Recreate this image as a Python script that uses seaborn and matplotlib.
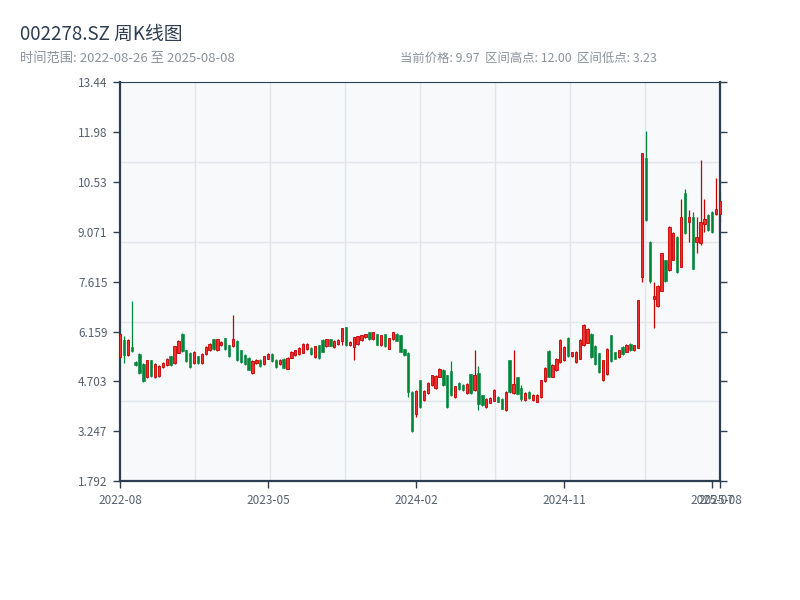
import numpy as np
import pandas as pd
import matplotlib
matplotlib.use('Agg')
import matplotlib.pyplot as plt
import seaborn as sns

# weekly candles, 2022-08-26 .. 2025-08-08
dates = pd.date_range('2022-08-26', periods=155, freq='W-FRI')

opens = [5.42, 5.91, 5.47, 5.71, 5.27, 5.50, 5.21, 4.82, 5.32, 4.82,
         4.86, 5.13, 5.17, 5.44, 5.24, 5.54, 6.10, 5.61, 5.54, 5.24,
         5.44, 5.24, 5.50, 5.61, 5.93, 5.61, 5.76, 5.96, 5.76, 5.73,
         5.89, 5.61, 5.47, 5.40, 4.95, 5.23, 5.34, 5.21, 5.37, 5.50,
         5.34, 5.21, 5.37, 5.08, 5.40, 5.47, 5.50, 5.54, 5.64, 5.69,
         5.42, 5.76, 5.91, 5.73, 5.93, 5.71, 5.80, 5.89, 6.28, 5.76,
         5.70, 5.79, 5.91, 5.99, 6.14, 5.93, 6.08, 5.77, 6.08, 5.66,
         5.93, 6.10, 6.05, 5.64, 5.54, 4.40, 3.75, 4.74, 4.16, 4.37,
         4.59, 4.50, 4.84, 5.05, 4.88, 5.00, 4.25, 4.66, 4.60, 4.37,
         4.91, 4.45, 4.95, 4.30, 3.96, 4.08, 4.14, 4.25, 4.20, 3.86,
         5.32, 4.37, 4.82, 4.50, 4.16, 4.40, 4.16, 4.11, 4.25, 4.71,
         5.59, 4.84, 5.03, 5.27, 5.32, 5.97, 5.45, 5.26, 5.37, 5.76,
         5.84, 6.10, 5.74, 5.52, 4.74, 4.91, 6.05, 5.55, 5.42, 5.71,
         5.57, 5.81, 5.61, 5.69, 7.75, 11.24, 8.78, 7.10, 6.91, 7.35,
         8.24, 7.95, 8.26, 8.93, 8.05, 10.20, 9.35, 9.50, 8.78, 8.73,
         9.30, 9.56, 9.65, 9.59, 9.60]
closes = [6.10, 5.47, 5.91, 5.59, 5.17, 4.95, 4.72, 5.32, 4.86, 5.21,
          5.15, 5.24, 5.37, 5.17, 5.73, 5.89, 5.59, 5.30, 5.13, 5.57,
          5.23, 5.50, 5.71, 5.81, 5.64, 5.93, 5.86, 5.64, 5.44, 5.93,
          5.32, 5.27, 5.21, 5.05, 5.30, 5.34, 5.15, 5.44, 5.50, 5.30,
          5.13, 5.34, 5.11, 5.40, 5.57, 5.61, 5.69, 5.81, 5.81, 5.50,
          5.73, 5.38, 5.57, 5.93, 5.75, 5.89, 5.92, 6.25, 5.76, 5.86,
          5.99, 6.02, 6.05, 6.08, 5.93, 6.14, 5.78, 6.05, 5.74, 5.96,
          6.14, 5.89, 5.57, 5.47, 4.40, 3.26, 4.43, 3.96, 4.43, 4.66,
          4.88, 4.86, 5.08, 4.59, 3.96, 4.30, 4.56, 4.47, 4.45, 4.64,
          4.37, 4.88, 4.05, 4.01, 4.20, 4.23, 4.45, 4.11, 3.91, 4.40,
          4.40, 4.64, 4.35, 4.18, 4.38, 4.22, 4.32, 4.32, 4.74, 5.10,
          4.84, 5.18, 5.37, 5.91, 5.71, 5.45, 5.55, 5.57, 5.91, 6.35,
          6.23, 5.42, 5.20, 4.98, 5.32, 5.66, 5.29, 5.37, 5.61, 5.49,
          5.78, 5.61, 5.76, 7.07, 11.36, 9.41, 7.64, 7.20, 7.50, 8.44,
          7.64, 9.22, 9.05, 7.90, 9.51, 9.05, 9.50, 8.00, 8.93, 9.36,
          9.45, 9.12, 9.07, 9.75, 9.97]
highs = [6.15, 6.02, 5.93, 7.05, 5.30, 5.52, 5.23, 5.34, 5.34, 5.23,
         5.17, 5.26, 5.39, 5.46, 5.75, 5.91, 6.12, 5.63, 5.56, 5.59,
         5.46, 5.52, 5.73, 5.83, 5.95, 5.95, 5.88, 5.98, 5.78, 6.64,
         5.91, 5.63, 5.49, 5.42, 5.32, 5.36, 5.36, 5.46, 5.52, 5.52,
         5.36, 5.36, 5.39, 5.42, 5.59, 5.63, 5.71, 5.83, 5.83, 5.71,
         5.75, 5.78, 5.93, 5.95, 5.95, 5.91, 5.94, 6.27, 6.30, 5.88,
         6.01, 6.04, 6.07, 6.10, 6.16, 6.16, 6.10, 6.07, 6.10, 5.98,
         6.16, 6.12, 6.07, 5.66, 5.56, 4.42, 4.45, 4.76, 4.45, 4.68,
         4.90, 4.88, 5.10, 5.07, 4.90, 5.29, 4.58, 4.68, 4.62, 4.66,
         4.93, 5.61, 5.15, 4.32, 4.22, 4.25, 4.47, 4.27, 4.22, 4.42,
         5.34, 5.61, 4.84, 4.59, 4.40, 4.42, 4.34, 4.34, 4.76, 5.12,
         5.61, 5.20, 5.39, 5.93, 5.73, 5.99, 5.57, 5.59, 5.93, 6.37,
         6.25, 6.12, 5.76, 5.54, 5.34, 5.68, 6.07, 5.57, 5.63, 5.73,
         5.80, 5.83, 5.78, 7.09, 11.38, 12.00, 8.80, 7.61, 7.52, 8.46,
         8.26, 9.24, 9.07, 8.95, 10.04, 10.31, 9.72, 9.65, 9.51, 11.18,
         10.04, 9.58, 9.67, 10.63, 10.24]
lows = [5.38, 5.24, 5.45, 5.57, 5.15, 4.93, 4.70, 4.80, 4.84, 4.80,
        4.84, 5.11, 5.15, 5.15, 5.22, 5.52, 5.57, 5.28, 5.11, 5.22,
        5.21, 5.22, 5.48, 5.59, 5.62, 5.59, 5.74, 5.62, 5.42, 5.71,
        5.30, 5.25, 5.19, 5.03, 4.93, 5.21, 5.13, 5.19, 5.35, 5.28,
        5.11, 5.19, 5.09, 5.06, 5.38, 5.45, 5.48, 5.52, 5.62, 5.48,
        5.40, 5.36, 5.55, 5.71, 5.73, 5.69, 5.78, 5.78, 5.74, 5.74,
        5.32, 5.77, 5.89, 5.97, 5.91, 5.91, 5.76, 5.75, 5.72, 5.64,
        5.91, 5.87, 5.55, 5.45, 4.25, 3.23, 3.67, 3.94, 4.14, 4.35,
        4.57, 4.48, 4.82, 4.57, 3.94, 4.27, 4.23, 4.45, 4.43, 4.35,
        4.35, 4.43, 3.86, 3.99, 3.94, 4.06, 4.12, 4.09, 3.89, 3.84,
        4.38, 4.35, 4.33, 4.13, 4.14, 4.20, 4.14, 4.09, 4.23, 4.69,
        4.82, 4.82, 5.01, 5.25, 5.30, 5.43, 5.43, 5.24, 5.35, 5.74,
        5.82, 5.40, 5.18, 4.96, 4.72, 4.89, 5.27, 5.35, 5.40, 5.47,
        5.55, 5.59, 5.59, 5.67, 7.62, 9.39, 7.58, 6.25, 6.89, 7.33,
        7.62, 7.93, 8.24, 7.88, 8.03, 9.00, 8.78, 7.98, 8.46, 8.70,
        9.07, 9.10, 9.05, 9.55, 9.36]

title = '002278.SZ 周K线图'
subtitle = '时间范围: 2022-08-26 至 2025-08-08'
stats = '当前价格: 9.97  区间高点: 12.00  区间低点: 3.23'
tick_idx = [0, 38, 76, 114, 152, 154]

df = pd.DataFrame({'date': dates, 'open': opens, 'high': highs,
                   'low': lows, 'close': closes})
df['x'] = np.arange(len(df))
df['up'] = df['close'] >= df['open']

sns.set_theme(style='white')
plt.rcParams['font.family'] = ['Noto Sans CJK SC', 'DejaVu Sans']

RED = '#f03030'
RED_EDGE = '#c40000'
GREEN = '#00853a'
DARK = '#2c3e50'

fig = plt.figure(figsize=(8, 6), dpi=100)
ax = fig.add_axes([0.15, 0.198, 0.75, 0.665])
ax.set_facecolor('#f7f9fb')

y_min, y_max = 1.7916, 13.438
x_min, x_max = 0, len(df) - 1

# background grid: 8 columns, 5 rows
for gx in np.linspace(x_min, x_max, 9)[1:-1]:
    ax.axvline(gx, color='#e2e5ea', lw=1, zorder=0)
for gy in np.linspace(y_min, y_max, 6)[1:-1]:
    ax.axhline(gy, color='#e2e5ea', lw=1, zorder=0)

up = df[df['up']]
dn = df[~df['up']]
ax.vlines(up['x'], up['low'], up['high'], color=RED_EDGE, lw=0.9, zorder=2, clip_on=False)
ax.vlines(dn['x'], dn['low'], dn['high'], color=GREEN, lw=0.9, zorder=2, clip_on=False)
ax.bar(up['x'], np.maximum(up['close'] - up['open'], 0.04), bottom=up['open'],
       width=0.6, color=RED, edgecolor=RED_EDGE, linewidth=0.6, zorder=3, clip_on=False)
ax.bar(dn['x'], np.maximum(dn['open'] - dn['close'], 0.04), bottom=dn['close'],
       width=0.6, color=GREEN, edgecolor=GREEN, linewidth=0.4, zorder=3, clip_on=False)

ax.set_xlim(x_min, x_max)
ax.set_ylim(y_min, y_max)

yt = np.linspace(y_min, y_max, 9)
ax.set_yticks(yt)
ax.set_yticklabels(['{:.4g}'.format(v) for v in yt])
ax.set_xticks(tick_idx)
ax.set_xticklabels([df['date'][i].strftime('%Y-%m') for i in tick_idx])

ax.tick_params(axis='both', which='major', direction='out', length=5, width=1,
               color=DARK, labelcolor='#56606e', labelsize=8.5, pad=4)
ax.tick_params(axis='y', right=True, labelright=False, left=True)
ax.tick_params(axis='x', bottom=True)

for side in ['left', 'bottom', 'right']:
    ax.spines[side].set_color(DARK)
    ax.spines[side].set_linewidth(1.6)
ax.spines['top'].set_color(DARK)
ax.spines['top'].set_linewidth(0.8)

fig.text(0.025, 0.942, title, fontsize=13.5, color=DARK, va='center')
fig.text(0.025, 0.903, subtitle, fontsize=9.5, color='#8a929c', va='center')
fig.text(0.5, 0.903, stats, fontsize=8.9, color='#8a929c', va='center')

fig.savefig('out.png', dpi=100)
